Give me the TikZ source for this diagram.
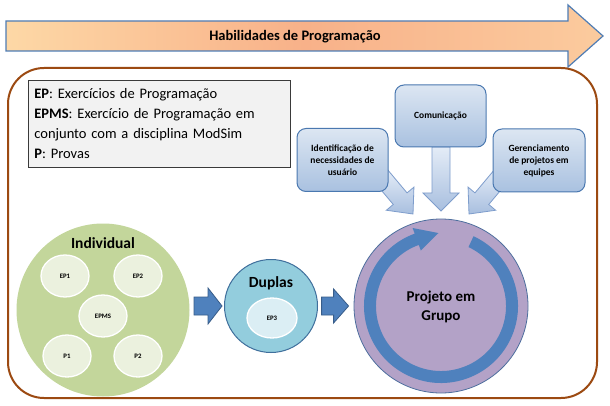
\documentclass[tikz,border=0pt]{standalone}
\usepackage{fontspec}
\setmainfont{Carlito}
\usetikzlibrary{calc,shapes.geometric}
\definecolor{framebrown}{HTML}{9C4A12}
\definecolor{legfill}{HTML}{F2F2F2}
\definecolor{legborder}{HTML}{3A3A3A}
\definecolor{skilltop}{HTML}{DCE6F2}
\definecolor{skillbot}{HTML}{A9C1E0}
\definecolor{skillborder}{HTML}{4A78B0}
\definecolor{barrtop}{HTML}{E4ECF7}
\definecolor{barrbot}{HTML}{A8BFDF}
\definecolor{barrborder}{HTML}{7E9DCC}
\definecolor{indgreen}{HTML}{C3D69B}
\definecolor{indsub}{HTML}{EBF1DE}
\definecolor{dupblue}{HTML}{93CDDD}
\definecolor{dupborder}{HTML}{3F6F9C}
\definecolor{dupsub}{HTML}{DBEEF4}
\definecolor{projpurple}{HTML}{B3A2C7}
\definecolor{projborder}{HTML}{4E6F9E}
\definecolor{accblue}{HTML}{4F81BD}
\definecolor{accborder}{HTML}{385D8A}
\definecolor{toporangeL}{HTML}{FDD8A6}
\definecolor{toporangeM}{HTML}{F8B189}
\definecolor{toporangeR}{HTML}{FBCB9E}
\definecolor{topborder}{HTML}{4F7DB5}
% block arrow: style, tip, rotation, length, head length, head half width, shaft half width
\newcommand\barrow[7]{\path[#1,shift={#2},rotate=#3] (0,0) -- (-#5,#6) -- (-#5,#7) -- (-#4,#7) -- (-#4,-#7) -- (-#5,-#7) -- (-#5,-#6) -- cycle;}
\begin{document}
\begin{tikzpicture}[x=1pt,y=-1pt,
  skill/.style={draw=skillborder, line width=1pt, rounded corners=9pt, top color=skilltop, bottom color=skillbot,
    minimum width=91pt, minimum height=63pt, inner sep=2pt, align=center, font=\bfseries\fontsize{9.5}{12}\selectfont},
  lightarr/.style={draw=barrborder, line width=0.8pt, top color=barrtop, bottom color=barrbot},
  bluearr/.style={draw=accborder, line width=0.8pt, fill=accblue},
  sub/.style={ellipse, draw=white, line width=1.3pt, minimum width=48pt, minimum height=42pt, inner sep=0pt,
    font=\bfseries\fontsize{6.8}{8}\selectfont},
  big/.style={font=\bfseries\fontsize{15.5}{19}\selectfont, align=center}]
\useasboundingbox (0,0) rectangle (610,406);
\fill[white] (0,0) rectangle (610,406);
% top arrow
\barrow{draw=topborder, line width=1.2pt, left color=toporangeL, right color=toporangeR, middle color=toporangeM}{(603,36)}{0}{597}{35}{31}{15}
\node[font=\bfseries\fontsize{14.5}{16}\selectfont] (title) at (295,37) {Habilidades de Programação};
% frame
\draw[framebrown, line width=2pt, rounded corners=36pt] (8,68) rectangle (597,398);
% legend
\node[draw=legborder, fill=legfill, line width=0.8pt, anchor=north west, minimum width=262pt, minimum height=87pt,
  text width=250pt, inner xsep=6pt, align=left, font=\fontsize{14.5}{20}\selectfont] (leg) at (28,80)
  {\textbf{EP}: Exercícios de Programação\\\textbf{EPMS}: Exercício de Programação em\\conjunto com a disciplina ModSim\\\textbf{P}: Provas};
% individual
\node[circle, fill=indgreen, minimum size=173pt, inner sep=0pt] (ind) at (103,310) {};
\node[big] (indt) at (103,243) {Individual};
\node[sub, fill=indsub] (ep1) at (65,276) {EP1};
\node[sub, fill=indsub] (ep2) at (138,276) {EP2};
\node[sub, fill=indsub] (epms) at (103,316) {EPMS};
\node[sub, fill=indsub] (p1) at (67,356) {P1};
\node[sub, fill=indsub] (p2) at (138,356) {P2};
% duplas
\node[circle, fill=dupblue, draw=dupborder, line width=1pt, minimum size=93pt, inner sep=0pt] (dup) at (271,306) {};
\node[big] (dupt) at (271,283) {Duplas};
\node[sub, fill=dupsub, minimum width=50pt, minimum height=40pt] (ep3) at (272,318) {EP3};
% projeto
\node[circle, fill=projpurple, draw=projborder, line width=0.8pt, minimum size=174pt, inner sep=0pt] (proj) at (441,306) {};
\fill[accblue] ($(proj.center)+(-65:77)$) arc[start angle=-65, end angle=250, radius=77]
  -- ($(proj.center)+(250:83)$) -- ($(proj.center)+(268:73)$) -- ($(proj.center)+(250:59)$)
  -- ($(proj.center)+(250:65)$) arc[start angle=250, end angle=-65, radius=65] -- cycle;
\node[big, font=\bfseries\fontsize{15}{19}\selectfont] (projt) at ($(proj.center)+(0,1)$) {Projeto em\\Grupo};
% blue arrows between circles
\barrow{bluearr}{($(dup.west)+(-2,0)$)}{0}{28}{14}{18}{9}
\barrow{bluearr}{($(proj.west)+(-5,0)$)}{0}{27}{15}{17}{9}
% light arrows into project
\barrow{lightarr}{($(proj.center)+(0,-95)$)}{-90}{64}{18}{18}{9}
\barrow{lightarr}{($(proj.center)+(-28,-92)$)}{-50}{50}{20}{18}{9}
\barrow{lightarr}{($(proj.center)+(28,-92)$)}{-130}{50}{20}{18}{9}
% skill boxes
\node[skill] (ident) at (342.5,160) {Identificação de\\necessidades de\\usuário};
\node[skill, minimum height=62pt] (comm) at (440.5,116) {Comunicação};
\node[skill, minimum width=92pt] (ger) at (539,160.5) {Gerenciamento\\de projetos em\\equipes};
\end{tikzpicture}
\end{document}
